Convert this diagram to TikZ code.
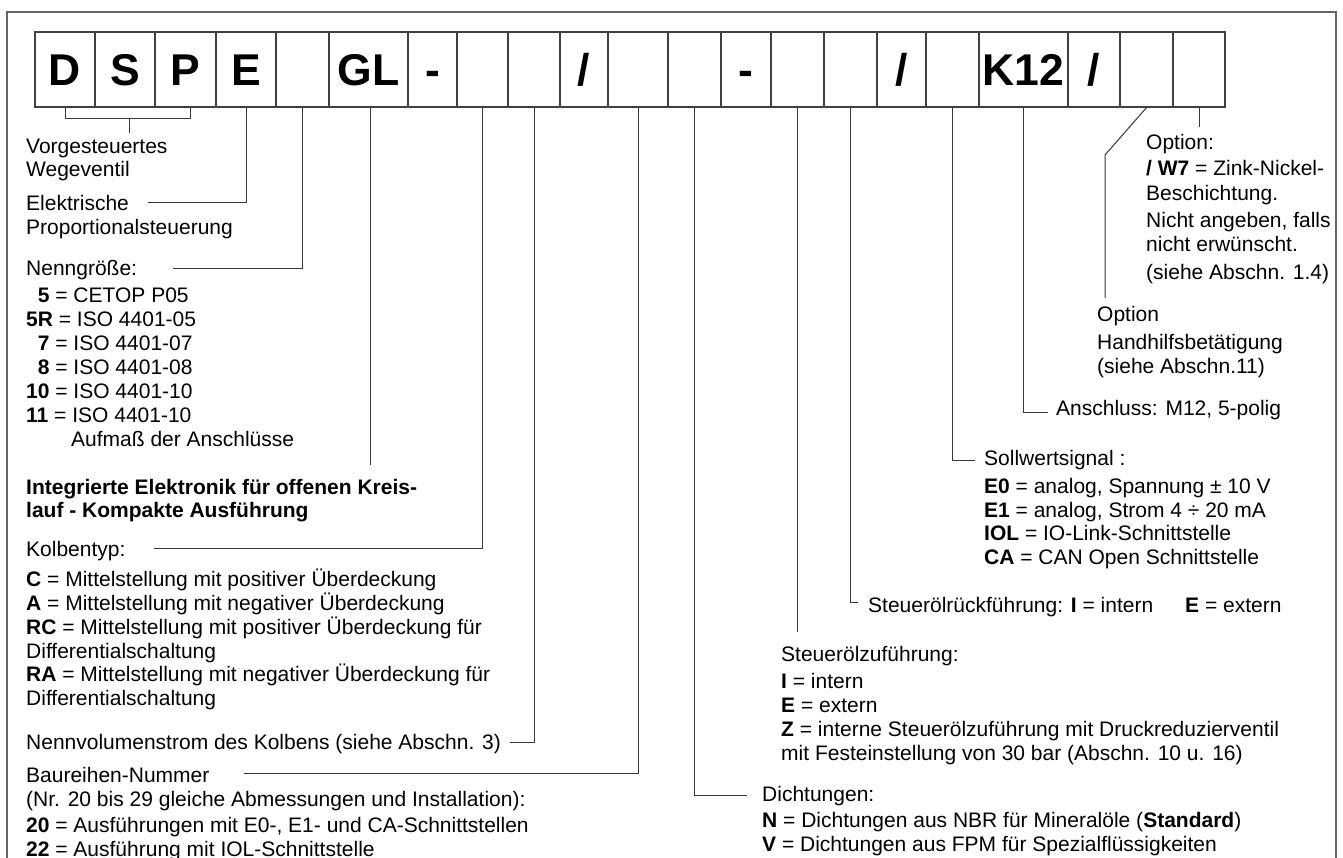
\documentclass[tikz,border=0pt]{standalone}
\usepackage{fontspec}
\setmainfont{Liberation Sans}
\usetikzlibrary{calc}
\newcommand\fsz{\fontsize{21}{24}\selectfont}
\begin{document}
\begin{tikzpicture}[x=1pt,y=-1pt,
  lbl/.style={anchor=base west, inner sep=0pt, font=\fsz, text=black},
  cell/.style={draw=black!75, line width=1.2pt, minimum height=75pt, inner sep=0pt,
    text height=32pt, text depth=0pt, font=\fontsize{44.5}{44.5}\selectfont\bfseries, anchor=center},
  conn/.style={draw=black!78, line width=1pt},
  frame/.style={draw=black!60, line width=1.6pt}]
\useasboundingbox (0,0) rectangle (1343,857);
\clip (0,0) rectangle (1343,857);
\draw[frame] (7,880) -- (7,12) -- (1336,12) -- (1336,880);

% code boxes
\node[cell, minimum width=60pt] (b1) at (65,69.5) {D};
\node[cell, minimum width=60pt] (b2) at (125,69.5) {S};
\node[cell, minimum width=61pt] (b3) at (185.5,69.5) {P};
\node[cell, minimum width=60pt] (b4) at (246,69.5) {E};
\node[cell, minimum width=53pt] (b5) at (302.5,69.5) {};
\node[cell, minimum width=79pt] (b6) at (368.5,69.5) {GL};
\node[cell, minimum width=49pt] (b7) at (432.5,69.5) {-};
\node[cell, minimum width=51pt] (b8) at (482.5,69.5) {};
\node[cell, minimum width=52pt] (b9) at (534,69.5) {};
\node[cell, minimum width=48pt] (b10) at (584,69.5) {/};
\node[cell, minimum width=60pt] (b11) at (638,69.5) {};
\node[cell, minimum width=53pt] (b12) at (694.5,69.5) {};
\node[cell, minimum width=50pt] (b13) at (746,69.5) {-};
\node[cell, minimum width=53pt] (b14) at (797.5,69.5) {};
\node[cell, minimum width=53pt] (b15) at (850.5,69.5) {};
\node[cell, minimum width=49pt] (b16) at (901.5,69.5) {/};
\node[cell, minimum width=53pt] (b17) at (952.5,69.5) {};
\node[cell, minimum width=89pt] (b18) at (1023.5,69.5) {K12};
\node[cell, minimum width=52pt] (b19) at (1094,69.5) {/};
\node[cell, minimum width=53pt] (b20) at (1146.5,69.5) {};
\node[cell, minimum width=52pt] (b21) at (1199,69.5) {};

% left texts
\node[lbl] (t1) at (26,153) {Vorgesteuertes};
\node[lbl] (t2) at (26,176) {Wegeventil};
\node[lbl] (t3) at (26,210) {Elektrische};
\node[lbl] (t4) at (26,234) {Proportionalsteuerung};
\node[lbl] (t5) at (26,275) {Nenngröße:};
\node[lbl] (n1) at (26,302) {\hphantom{1}\textbf{5} = CETOP P05};
\node[lbl] (n2) at (26,326) {\textbf{5R} = ISO 4401-05};
\node[lbl] (n3) at (26,350) {\hphantom{1}\textbf{7} = ISO 4401-07};
\node[lbl] (n4) at (26,374) {\hphantom{1}\textbf{8} = ISO 4401-08};
\node[lbl] (n5) at (26,398) {\textbf{10} = ISO 4401-10};
\node[lbl] (n6) at (26,422) {\textbf{11} = ISO 4401-10};
\node[lbl] (n7) at (71,446) {Aufmaß der Anschlüsse};
\node[lbl, font=\fsz\bfseries] (g1) at (26,494) {Integrierte Elektronik für offenen Kreis-};
\node[lbl, font=\fsz\bfseries] (g2) at (26,517) {lauf - Kompakte Ausführung};
\node[lbl] (k0) at (26,556) {Kolbentyp:};
\node[lbl] (k1) at (26,586) {\textbf{C} = Mittelstellung mit positiver Überdeckung};
\node[lbl] (k2) at (26,610) {\textbf{A} = Mittelstellung mit negativer Überdeckung};
\node[lbl] (k3) at (26,634) {\textbf{RC} = Mittelstellung mit positiver Überdeckung für};
\node[lbl] (k4) at (26,658) {Differentialschaltung};
\node[lbl] (k5) at (26,681) {\textbf{RA} = Mittelstellung mit negativer Überdeckung für};
\node[lbl] (k6) at (26,705) {Differentialschaltung};
\node[lbl] (v1) at (26,749) {Nennvolumenstrom des Kolbens (siehe Abschn. 3)};
\node[lbl] (s0) at (26,782) {Baureihen-Nummer};
\node[lbl] (s1) at (26,806) {(Nr. 20 bis 29 gleiche Abmessungen und Installation):};
\node[lbl] (s2) at (26,832) {\textbf{20} = Ausführungen mit E0-, E1- und CA-Schnittstellen};
\node[lbl] (s3) at (26,856) {\textbf{22} = Ausführung mit IOL-Schnittstelle};

% right texts
\node[lbl] (o1) at (1146,149) {Option:};
\node[lbl] (o2) at (1146,175) {\textbf{/ W7} = Zink-Nickel-};
\node[lbl] (o3) at (1146,200) {Beschichtung.};
\node[lbl] (o4) at (1146,227) {Nicht angeben, falls};
\node[lbl] (o5) at (1146,251) {nicht erwünscht.};
\node[lbl] (o6) at (1146,279) {(siehe Abschn. 1.4)};
\node[lbl] (h1) at (1097,321) {Option};
\node[lbl] (h2) at (1097,349) {Handhilfsbetätigung};
\node[lbl] (h3) at (1097,373) {(siehe Abschn.11)};
\node[lbl] (a1) at (1056,415) {Anschluss: M12, 5-polig};
\node[lbl] (w0) at (984,465) {Sollwertsignal :};
\node[lbl] (w1) at (984,493) {\textbf{E0} = analog, Spannung ± 10 V};
\node[lbl] (w2) at (984,517) {\textbf{E1} = analog, Strom 4 ÷ 20 mA};
\node[lbl] (w3) at (984,540) {\textbf{IOL} = IO-Link-Schnittstelle};
\node[lbl] (w4) at (984,564) {\textbf{CA} = CAN Open Schnittstelle};
\node[lbl] (r1) at (868,612) {Steuerölrückführung: \textbf{I} = intern};
\node[lbl] (r2) at (1185,612) {\textbf{E} = extern};
\node[lbl] (z0) at (781,661) {Steuerölzuführung:};
\node[lbl] (z1) at (781,688) {\textbf{I} = intern};
\node[lbl] (z2) at (781,712) {\textbf{E} = extern};
\node[lbl] (z3) at (781,736) {\textbf{Z} = interne Steuerölzuführung mit Druckreduzierventil};
\node[lbl] (z4) at (781,760) {mit Festeinstellung von 30 bar (Abschn. 10 u. 16)};
\node[lbl] (d0) at (762,801) {Dichtungen:};
\node[lbl] (d1) at (762,827) {\textbf{N} = Dichtungen aus NBR für Mineralöle (\textbf{Standard})};
\node[lbl] (d2) at (762,851) {\textbf{V} = Dichtungen aus FPM für Spezialflüssigkeiten};

% connector end points
\coordinate (brkL) at (65,118);
\coordinate (brkR) at (190,118);
\coordinate (brkM) at (129,118);
\coordinate (brkT) at (129,133);
\coordinate (cE) at (148,202);
\coordinate (cN) at (173,268);
\coordinate (cGL) at (370,465);
\coordinate (cK) at (154,548);
\coordinate (cV) at (510,742);
\coordinate (cB) at (244,773);
\coordinate (cD) at (747,795);
\coordinate (cZ) at (798,632);
\coordinate (cR) at (858,602);
\coordinate (cS) at (975,460);
\coordinate (cA) at (1048,412);
\coordinate (cH1) at (1105,155);
\coordinate (cH2) at (1105,298);
\coordinate (cO) at (1199,127);

% connectors
\draw[conn] (b1.south) -- (brkL) -- (brkR) -- (brkR |- b3.south);
\draw[conn] (brkM) -- (brkT);
\draw[conn] (b4.south) |- (cE);
\draw[conn] (b5.south) |- (cN);
\draw[conn] (b6.south -| cGL) -- (cGL);
\draw[conn] (b8.south) |- (cK);
\draw[conn] (b9.south) |- (cV);
\draw[conn] (b11.south) |- (cB);
\draw[conn] (b12.south) |- (cD);
\draw[conn] (b14.south) -- (b14.south |- cZ);
\draw[conn] (b15.south) |- (cR);
\draw[conn] (b17.south) |- (cS);
\draw[conn] (b18.south) |- (cA);
\draw[conn] (b20.south) -- (cH1) -- (cH2);
\draw[conn] (b21.south) -- (b21.south |- cO);
\end{tikzpicture}
\end{document}
